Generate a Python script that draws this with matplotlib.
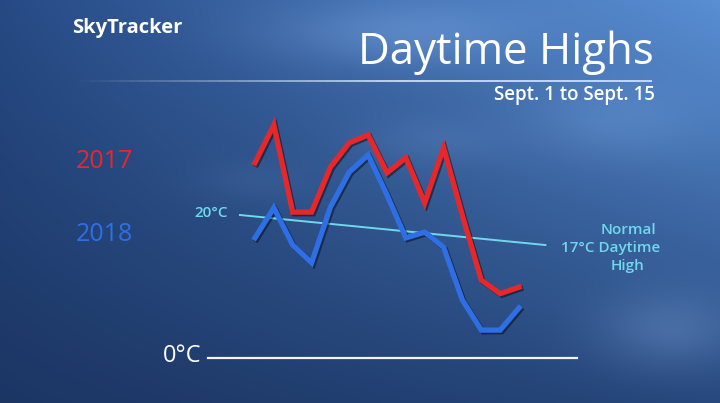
import numpy as np
import matplotlib
matplotlib.use("Agg")
import matplotlib.pyplot as plt
import matplotlib.patheffects as pe
from matplotlib.collections import LineCollection

plt.rcParams["font.family"] = ["Open Sans", "DejaVu Sans"]

days = list(range(1, 16))
highs_2017 = [27.3, 32.6, 20.4, 20.4, 26.7, 30.1, 31.2, 25.9, 28.0, 21.7, 29.4, 19.9, 10.9, 9.0, 9.9]
highs_2018 = [16.8, 21.0, 15.8, 13.3, 21.1, 26.0, 28.4, 22.8, 16.8, 17.6, 15.5, 8.1, 3.9, 3.9, 7.0]
normal_days = [0.2, 16.4]
normal_vals = [20.0, 15.8]
zero_days = [-1.5, 18.1]

W, H = 720, 403
RED = "#e8272b"
BLUE = "#2f6fe6"
CYAN = "#6fd8ec"


def px(x, y):
    return x / W, 1 - y / H


fig = plt.figure(figsize=(W / 100, H / 100), dpi=100)

# background: blue sky gradient with some soft lighter patches
bg = fig.add_axes([0, 0, 1, 1])
bg.set_axis_off()
yy, xx = np.mgrid[0:1:H * 1j, 0:1:W * 1j]
tl = np.array([0.15, 0.29, 0.52])
tr = np.array([0.35, 0.56, 0.83])
bl = np.array([0.11, 0.21, 0.39])
br = np.array([0.15, 0.28, 0.49])
img = ((1 - xx)[..., None] * (1 - yy)[..., None] * tl + xx[..., None] * (1 - yy)[..., None] * tr
       + (1 - xx)[..., None] * yy[..., None] * bl + xx[..., None] * yy[..., None] * br)
for cx, cy, sx, sy, a in [(0.55, 0.08, 0.18, 0.08, 0.10), (0.85, 0.30, 0.12, 0.10, 0.06),
                          (0.93, 0.82, 0.10, 0.10, 0.10), (0.60, 0.35, 0.10, 0.06, 0.04),
                          (0.35, 0.45, 0.08, 0.05, 0.03)]:
    g = np.exp(-(((xx - cx) / sx) ** 2 + ((yy - cy) / sy) ** 2))
    img = img + a * g[..., None]
bg.imshow(np.clip(img, 0, 1), aspect="auto", extent=[0, 1, 0, 1])
bg.set_xlim(0, 1)
bg.set_ylim(0, 1)

# title rule fading in from the left
xs = np.linspace(70 / W, 652 / W, 60)
segs = [[(xs[i], 1 - 80.5 / H), (xs[i + 1], 1 - 80.5 / H)] for i in range(len(xs) - 1)]
alphas = np.clip(np.linspace(0.0, 1.6, len(segs)), 0, 0.9)
cols = [(0.85, 0.92, 1.0, a) for a in alphas]
bg.add_collection(LineCollection(segs, colors=cols, linewidths=1.3))

# chart
ax = fig.add_axes([255 / W, 45 / H, 264 / W, 35 * 7.15 / H])
ax.set_axis_off()
ax.set_xlim(1, 15)
ax.set_ylim(0, 35)
ax.patch.set_alpha(0)

shadow = [pe.SimpleLineShadow(offset=(1.2, -1.2), shadow_color="black", alpha=0.45), pe.Normal()]
ax.plot(zero_days, [0, 0], color="white", lw=1.6, clip_on=False, alpha=0.95)
ax.plot(normal_days, normal_vals, color=CYAN, lw=1.4, clip_on=False, zorder=2)
ax.plot(days, highs_2018, color=BLUE, lw=3.8, clip_on=False, zorder=3,
        solid_joinstyle="miter", path_effects=shadow)
ax.plot(days, highs_2017, color=RED, lw=3.8, clip_on=False, zorder=4,
        solid_joinstyle="miter", path_effects=shadow)

# texts
fig.text(*px(72, 28), "SkyTracker", color="white", fontsize=14.5, fontweight="bold",
         ha="left", va="center")
fig.text(*px(654, 53), "Daytime Highs", color="white", fontsize=31.5,
         ha="right", va="center")
fig.text(*px(655, 95), "Sept. 1 to Sept. 15", color="white", fontsize=13.5,
         fontweight="semibold", ha="right", va="center")
fig.text(*px(76, 161), "2017", color=RED, fontsize=18, ha="left", va="center")
fig.text(*px(76, 234), "2018", color=BLUE, fontsize=18, ha="left", va="center")
fig.text(*px(228, 213), "20°C", color=CYAN, fontsize=11, fontweight="semibold",
         ha="right", va="center")
fig.text(*px(628, 230), "Normal", color=CYAN, fontsize=11, fontweight="semibold",
         ha="center", va="center")
fig.text(*px(660, 248), "17°C Daytime", color=CYAN, fontsize=11, fontweight="semibold",
         ha="right", va="center")
fig.text(*px(628, 266), "High", color=CYAN, fontsize=11, fontweight="semibold",
         ha="center", va="center")
fig.text(*px(201, 356), "0°C", color="white", fontsize=17,
         ha="right", va="center")

fig.savefig("out.png", dpi=100)
